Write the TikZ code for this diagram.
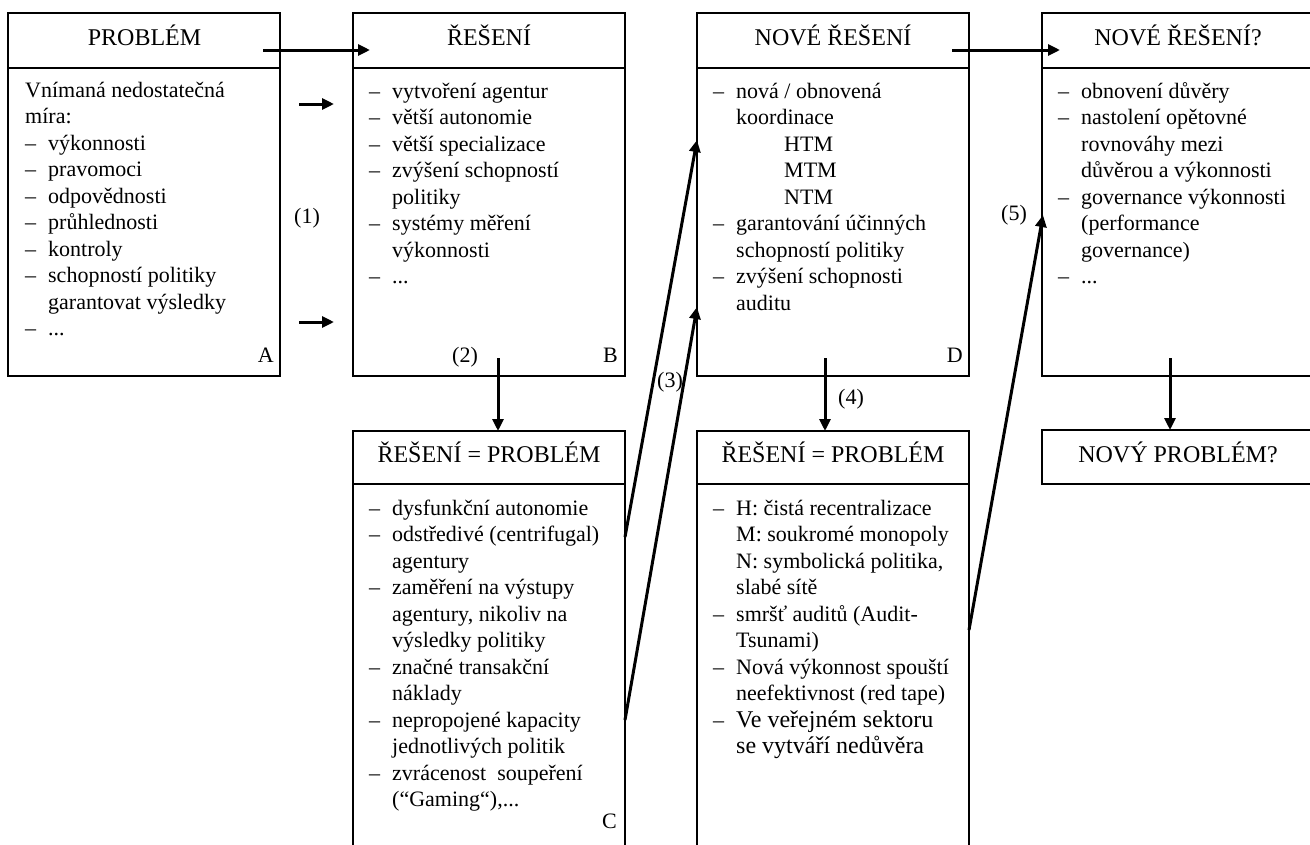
\documentclass[tikz,border=0pt]{standalone}
\usepackage{fontspec}
\setmainfont{Liberation Serif}
\usetikzlibrary{arrows.meta}

% list helpers: a dash item and a continuation line
\newcommand\itemdash{\makebox[23pt][l]{–}}
\newcommand\itemcont{\hspace*{23pt}}
\newcommand\bodylist[1]{\begin{tabular}[t]{@{}l@{}}#1\end{tabular}}

\begin{document}
\begin{tikzpicture}[x=1pt,y=-1pt,
  panel/.style={draw, line width=1.3pt, minimum width=272pt, anchor=north west,
                inner sep=0pt, outer sep=0pt},
  headfont/.style={font=\fontsize{24}{28}\selectfont, inner sep=0pt, anchor=base},
  bodyfont/.style={font=\fontsize{22}{26.5}\selectfont, inner sep=0pt, anchor=base west},
  tag/.style={font=\fontsize{22}{26.5}\selectfont, inner sep=0pt, anchor=base east},
  numlabel/.style={font=\fontsize{22}{26.5}\selectfont, inner sep=0pt, anchor=base},
  conn/.style={line width=3pt, -{Triangle[length=12pt,width=11pt]}}
]
\useasboundingbox (0,0) rectangle (1310,844);
\clip (0,0) rectangle (1310,844);

% ---- panels: header + body
\node[panel, minimum height=55pt] (Ah) at (8,13) {};
\node[panel, minimum height=308pt] (Ab) at (8,68) {};
\node[panel, minimum height=55pt] (Bh) at (353,13) {};
\node[panel, minimum height=308pt] (Bb) at (353,68) {};
\node[panel, minimum height=55pt] (Dh) at (697,13) {};
\node[panel, minimum height=308pt] (Db) at (697,68) {};
\node[panel, minimum height=55pt] (Eh) at (1042,13) {};
\node[panel, minimum height=308pt] (Eb) at (1042,68) {};
\node[panel, minimum height=53pt] (Ch) at (353,431) {};
\node[panel, minimum height=380pt] (Cb) at (353,484) {};
\node[panel, minimum height=53pt] (Fh) at (697,431) {};
\node[panel, minimum height=380pt] (Fb) at (697,484) {};
\node[panel, minimum height=54pt] (Gh) at (1042,430) {};

% ---- header titles
\node[headfont] (Aht) at (144.5,45) {PROBLÉM};
\node[headfont] (Bht) at (489,45) {ŘEŠENÍ};
\node[headfont] (Dht) at (833,45) {NOVÉ ŘEŠENÍ};
\node[headfont] (Eht) at (1178,45) {NOVÉ ŘEŠENÍ?};
\node[headfont] (Cht) at (489,462) {ŘEŠENÍ = PROBLÉM};
\node[headfont] (Fht) at (833,462) {ŘEŠENÍ = PROBLÉM};
\node[headfont] (Ght) at (1178,462) {NOVÝ PROBLÉM?};

% ---- body texts
\node[bodyfont] (Atx) at (25,97) {\bodylist{%
  Vnímaná nedostatečná\\
  míra:\\
  \itemdash výkonnosti\\
  \itemdash pravomoci\\
  \itemdash odpovědnosti\\
  \itemdash průhlednosti\\
  \itemdash kontroly\\
  \itemdash schopností politiky\\
  \itemcont garantovat výsledky\\
  \itemdash ...}};

\node[bodyfont] (Btx) at (369,98) {\bodylist{%
  \itemdash vytvoření agentur\\
  \itemdash větší autonomie\\
  \itemdash větší specializace\\
  \itemdash zvýšení schopností\\
  \itemcont politiky\\
  \itemdash systémy měření\\
  \itemcont výkonnosti\\
  \itemdash ...}};

\node[bodyfont] (Dtx) at (713,98) {\bodylist{%
  \itemdash nová / obnovená\\
  \itemcont koordinace\\
  \hspace*{71pt}HTM\\
  \hspace*{71pt}MTM\\
  \hspace*{71pt}NTM\\
  \itemdash garantování účinných\\
  \itemcont schopností politiky\\
  \itemdash zvýšení schopnosti\\
  \itemcont auditu}};

\node[bodyfont] (Etx) at (1058,98) {\bodylist{%
  \itemdash obnovení důvěry\\
  \itemdash nastolení opětovné\\
  \itemcont rovnováhy mezi\\
  \itemcont důvěrou a výkonnosti\\
  \itemdash governance výkonnosti\\
  \itemcont (performance\\
  \itemcont governance)\\
  \itemdash ...}};

\node[bodyfont] (Ctx) at (369,515) {\bodylist{%
  \itemdash dysfunkční autonomie\\
  \itemdash odstředivé (centrifugal)\\
  \itemcont agentury\\
  \itemdash zaměření na výstupy\\
  \itemcont agentury, nikoliv na\\
  \itemcont výsledky politiky\\
  \itemdash značné transakční\\
  \itemcont náklady\\
  \itemdash nepropojené kapacity\\
  \itemcont jednotlivých politik\\
  \itemdash zvrácenost~ soupeření\\
  \itemcont (“Gaming“),...}};

\node[bodyfont] (Ftx) at (713,515) {\bodylist{%
  \itemdash H: čistá recentralizace\\
  \itemcont M: soukromé monopoly\\
  \itemcont N: symbolická politika,\\
  \itemcont slabé sítě\\
  \itemdash smršť auditů (Audit-\\
  \itemcont Tsunami)\\
  \itemdash Nová výkonnost spouští\\
  \itemcont neefektivnost (red tape)\\
  \itemdash{\fontsize{24}{28}\selectfont Ve veřejném sektoru}\\
  \itemcont{\fontsize{24}{28}\selectfont se vytváří nedůvěra}}};

% ---- corner letters
\node[tag] (Atag) at (274,362) {A};
\node[tag] (Btag) at (618,362) {B};
\node[tag] (Dtag) at (963,362) {D};
\node[tag] (Ctag) at (617,828) {C};

% ---- step numbers
\node[numlabel] (n1) at (307,223) {(1)};
\node[numlabel] (n2) at (465,362) {(2)};
\node[numlabel] (n3) at (670,387) {(3)};
\node[numlabel] (n4) at (851,404) {(4)};
\node[numlabel] (n5) at (1014,220) {(5)};

% ---- connector end points
\coordinate (ab1) at (263,50);   \coordinate (ab2) at (370,50);
\coordinate (u1) at (299,104);   \coordinate (u2) at (334,104);
\coordinate (w1) at (299,322);   \coordinate (w2) at (334,322);
\coordinate (bc) at (498,358);
\coordinate (cd1) at (625,537);  \coordinate (cd2) at (697,140);
\coordinate (cd3) at (625,720);  \coordinate (cd4) at (697,307);
\coordinate (de1) at (952,50);   \coordinate (de2) at (1060,50);
\coordinate (df) at (825,358);
\coordinate (fe1) at (969,630);  \coordinate (fe2) at (1043,215);
\coordinate (eg) at (1170,358);

% ---- connectors
\draw[conn] (ab1) -- (ab2);
\draw[conn] (u1) -- (u2);
\draw[conn] (w1) -- (w2);
\draw[conn] (bc) -- (bc |- Ch.north);
\draw[conn] (cd1) -- (cd2);
\draw[conn] (cd3) -- (cd4);
\draw[conn] (de1) -- (de2);
\draw[conn] (df) -- (df |- Fh.north);
\draw[conn] (fe1) -- (fe2);
\draw[conn] (eg) -- (eg |- Gh.north);
\end{tikzpicture}
\end{document}
